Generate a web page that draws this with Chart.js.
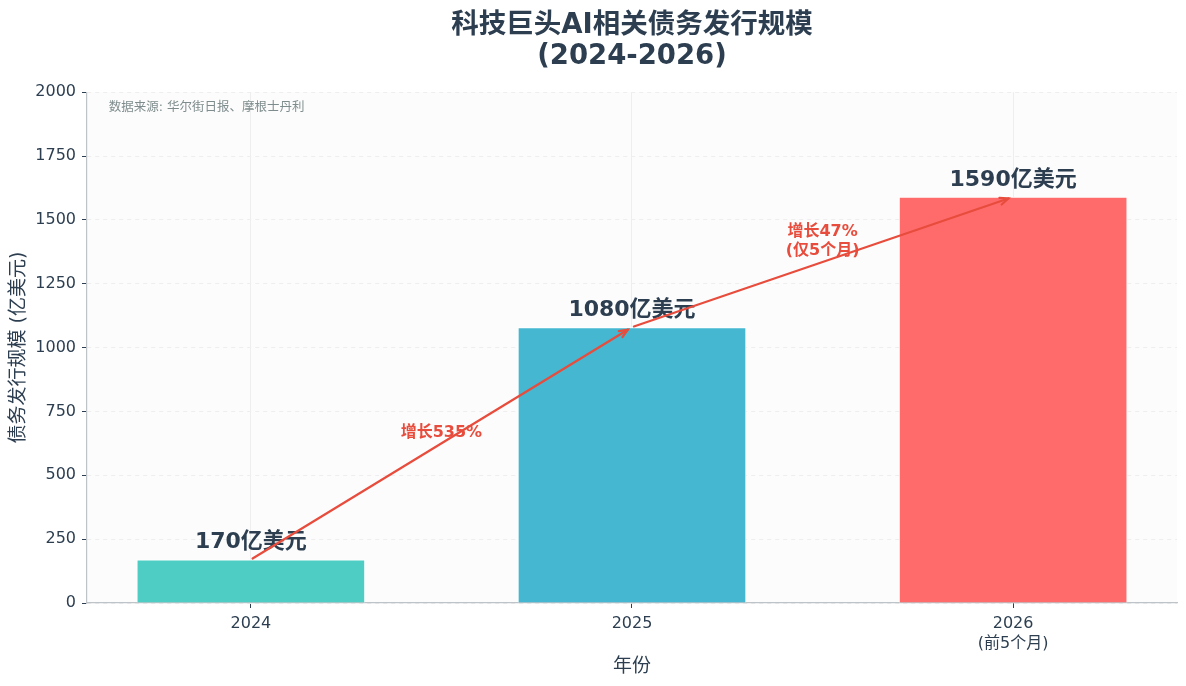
<!DOCTYPE html>
<html>
<head>
<meta charset="utf-8">
<script src="https://cdn.jsdelivr.net/npm/chart.js@4/dist/chart.umd.min.js"></script>
<style>
  body { margin: 0; background: #ffffff; }
  #wrap { width: 1186px; height: 686px; }
</style>
</head>
<body>
<div id="wrap"><canvas id="chart" width="1186" height="686"></canvas></div>
<script>
// Data
const years = ['2024', '2025', ['2026', '(前5个月)']];
const amounts = [170, 1080, 1590];
const barColors = ['#4ECDC4', '#45B7D1', '#FF6B6B'];
const growthLabels = [['增长535%'], ['增长47%', '(仅5个月)']];
const sourceNote = '数据来源: 华尔街日报、摩根士丹利';

const FONT = "'DejaVu Sans', 'Noto Sans CJK SC', sans-serif";
const DARK = '#2c3e50';
const RED = '#e74c3c';

// Arrow helper
function drawArrow(ctx, x1, y1, x2, y2) {
  const ang = Math.atan2(y2 - y1, x2 - x1);
  const sx = x1 + Math.cos(ang) * 2, sy = y1 + Math.sin(ang) * 2;
  const ex = x2 - Math.cos(ang) * 5, ey = y2 - Math.sin(ang) * 5;
  ctx.save();
  ctx.strokeStyle = RED;
  ctx.lineWidth = 2.2;
  ctx.lineCap = 'round';
  ctx.beginPath();
  ctx.moveTo(sx, sy);
  ctx.lineTo(ex, ey);
  ctx.stroke();
  const h = 9, w = 0.4;
  ctx.beginPath();
  ctx.moveTo(ex - h * Math.cos(ang - w), ey - h * Math.sin(ang - w));
  ctx.lineTo(ex, ey);
  ctx.lineTo(ex - h * Math.cos(ang + w), ey - h * Math.sin(ang + w));
  ctx.stroke();
  ctx.restore();
}

// Plot background
const bgPlugin = {
  id: 'plotBg',
  beforeDraw(chart) {
    const { ctx, chartArea: a } = chart;
    ctx.save();
    ctx.fillStyle = '#fcfcfc';
    ctx.fillRect(a.left, a.top, a.right - a.left, a.bottom - a.top);
    ctx.restore();
  }
};

// Labels, arrows and notes
const notesPlugin = {
  id: 'notes',
  afterDatasetsDraw(chart) {
    const { ctx, chartArea: a } = chart;
    const xs = chart.scales.x, ys = chart.scales.y;
    ctx.save();
    ctx.textAlign = 'center';
    ctx.textBaseline = 'middle';
    ctx.fillStyle = DARK;
    ctx.font = 'bold 22px ' + FONT;
    amounts.forEach((v, i) => {
      ctx.fillText(v + '亿美元', xs.getPixelForValue(i), ys.getPixelForValue(v) - 17);
    });

    for (let i = 0; i < amounts.length - 1; i++) {
      drawArrow(ctx,
        xs.getPixelForValue(i), ys.getPixelForValue(amounts[i]),
        xs.getPixelForValue(i + 1), ys.getPixelForValue(amounts[i + 1]));
    }

    ctx.fillStyle = RED;
    ctx.font = 'bold 16px ' + FONT;
    const notePos = [[0.5, 668], [1.5, 1414]];
    growthLabels.forEach((lines, i) => {
      const cx = xs.getPixelForValue(notePos[i][0]);
      const cy = ys.getPixelForValue(notePos[i][1]);
      const lh = 19;
      lines.forEach((t, j) => {
        ctx.fillText(t, cx, cy + (j - (lines.length - 1) / 2) * lh);
      });
    });

    ctx.textAlign = 'left';
    ctx.fillStyle = '#7f8c8d';
    ctx.font = '12.5px ' + FONT;
    ctx.fillText(sourceNote, a.left + 0.02 * (a.right - a.left), a.top + 0.03 * (a.bottom - a.top));
    ctx.restore();
  }
};

new Chart(document.getElementById('chart'), {
  type: 'bar',
  data: {
    datasets: [{
      data: amounts.map((v, i) => ({ x: i, y: v })),
      backgroundColor: barColors,
      borderColor: '#ffffff',
      borderWidth: 1,
      barPercentage: 0.6,
      categoryPercentage: 1
    }]
  },
  options: {
    responsive: false,
    animation: false,
    layout: { padding: { left: 0, right: 9, top: 0, bottom: 0 } },
    plugins: {
      legend: { display: false },
      tooltip: { enabled: false },
      title: {
        display: true,
        fullSize: false,
        text: ['科技巨头AI相关债务发行规模', '(2024-2026)'],
        color: DARK,
        font: { family: FONT, size: 27.5, weight: 'bold', lineHeight: 1.13 },
        padding: { top: 10, bottom: 20 }
      }
    },
    scales: {
      x: {
        type: 'linear',
        min: -0.43,
        max: 2.43,
        offset: false,
        afterBuildTicks(scale) { scale.ticks = years.map((_, i) => ({ value: i })); },
        afterFit(scale) { scale.height = 83; },
        ticks: {
          color: DARK,
          font: { family: FONT, size: 16, lineHeight: 1.25 },
          padding: 6,
          callback: (v) => years[v] || ''
        },
        grid: { offset: false, color: '#eeeeee', lineWidth: 1, tickLength: 5, tickColor: DARK },
        border: { color: '#bdc3c7', width: 1.2 },
        title: {
          display: true,
          text: '年份',
          color: DARK,
          font: { family: FONT, size: 19 },
          padding: { top: 0, bottom: 8 }
        }
      },
      y: {
        min: 0,
        max: 2000,
        afterFit(scale) { scale.width = 87; },
        ticks: {
          stepSize: 250,
          color: DARK,
          font: { family: FONT, size: 16 },
          padding: 6,
          callback: (v) => String(v)
        },
        grid: { color: '#eeeeee', lineWidth: 1, tickLength: 5, tickColor: DARK, tickBorderDash: [] },
        border: { color: '#bdc3c7', width: 1.2, dash: [4, 4] },
        title: {
          display: true,
          text: '债务发行规模 (亿美元)',
          color: DARK,
          font: { family: FONT, size: 19 },
          padding: { top: 8, bottom: 0 }
        }
      }
    }
  },
  plugins: [bgPlugin, notesPlugin]
});
</script>
</body>
</html>
